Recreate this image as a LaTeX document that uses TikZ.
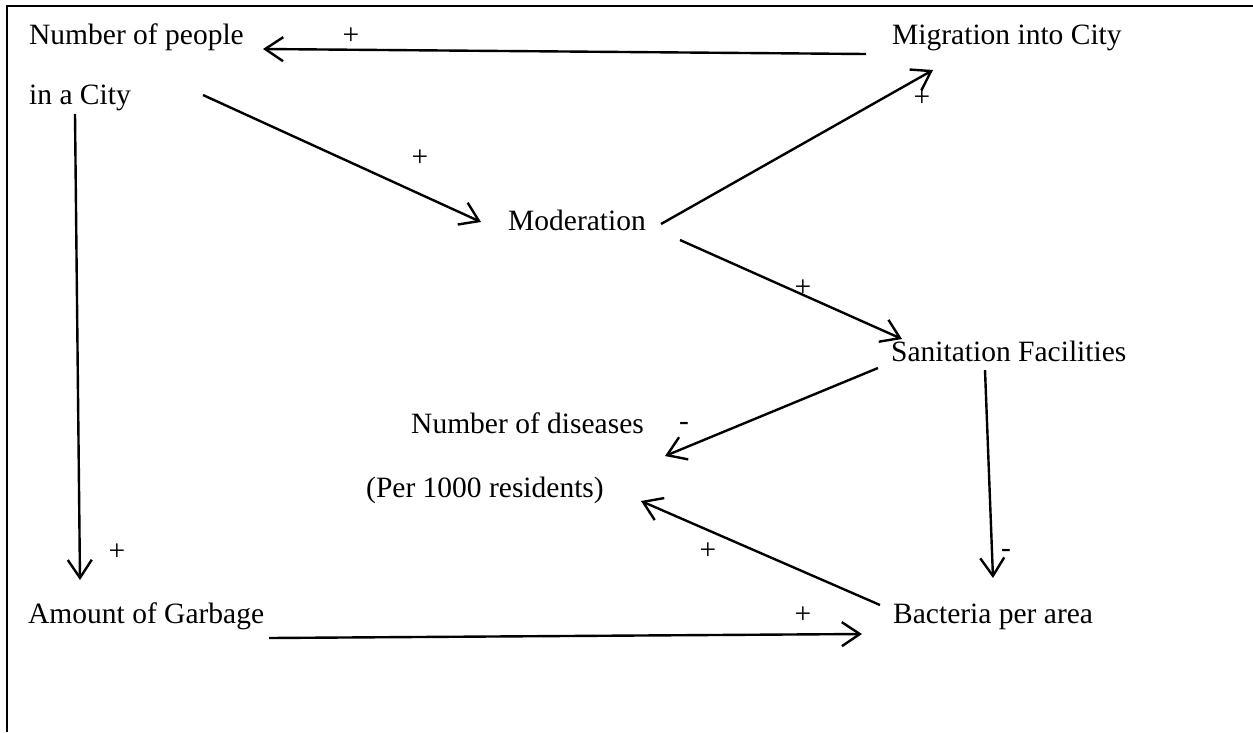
\documentclass[tikz,border=0pt]{standalone}
\usepackage{fontspec}
\setmainfont{Liberation Serif}
\usetikzlibrary{arrows.meta}
\begin{document}
\begin{tikzpicture}[x=1pt,y=-1pt,
  lbl/.style={anchor=base west, inner sep=0pt, font=\fontsize{29.5}{34}\selectfont},
  sgn/.style={inner sep=0pt, font=\fontsize{29.5}{34}\selectfont},
  arr/.style={line width=2.4pt, -{Straight Barb[length=18pt,width=24pt,line width=2.4pt]}}]
\useasboundingbox (0,0) rectangle (1253,732);
\draw[line width=1.6pt] (7,732) -- (7,6) -- (1253,6);

% labels
\node[lbl] (people) at (29,44) {Number of people};
\node[lbl] (city) at (29,104) {in a City};
\node[lbl] (mig) at (892,44) {Migration into City};
\node[lbl] (mod) at (508,230) {Moderation};
\node[lbl] (san) at (891,361) {Sanitation Facilities};
\node[lbl] (dis) at (411,433) {Number of diseases};
\node[lbl] (per) at (366,497) {(Per 1000 residents)};
\node[lbl] (gar) at (28,623) {Amount of Garbage};
\node[lbl] (bac) at (893,623) {Bacteria per area};

% connector end points
\coordinate (a1s) at (866,54);  \coordinate (a1e) at (263,49);
\coordinate (a2s) at (203,95);  \coordinate (a2e) at (481,222);
\coordinate (a3s) at (661,224); \coordinate (a3e) at (933,70);
\coordinate (a4s) at (680,240); \coordinate (a4e) at (902,339);
\coordinate (a5s) at (878,368); \coordinate (a5e) at (665,456);
\coordinate (a6s) at (880,605); \coordinate (a6e) at (641,501);
\coordinate (a7s) at (985,370); \coordinate (a7e) at (993,578);
\coordinate (a8s) at (75,114);  \coordinate (a8e) at (80,580);
\coordinate (a9s) at (269,638); \coordinate (a9e) at (862,634);

\draw[arr] (a1s) -- (a1e);
\draw[arr] (a2s) -- (a2e);
\draw[arr] (a3s) -- (a3e);
\draw[arr] (a4s) -- (a4e);
\draw[arr] (a5s) -- (a5e);
\draw[arr] (a6s) -- (a6e);
\draw[arr] (a7s) -- (a7e);
\draw[arr] (a8s) -- (a8e);
\draw[arr] (a9s) -- (a9e);

% signs
\node[sgn] (s1) at (351,36) {+};
\node[sgn] (s2) at (420,158) {+};
\node[sgn] (s3) at (922,98) {+};
\node[sgn] (s4) at (803,288) {+};
\node[sgn] (s5) at (684,426) {-};
\node[sgn] (s6) at (708,551) {+};
\node[sgn] (s7) at (1006,553) {-};
\node[sgn] (s8) at (117,552) {+};
\node[sgn] (s9) at (803,615) {+};
\end{tikzpicture}
\end{document}
